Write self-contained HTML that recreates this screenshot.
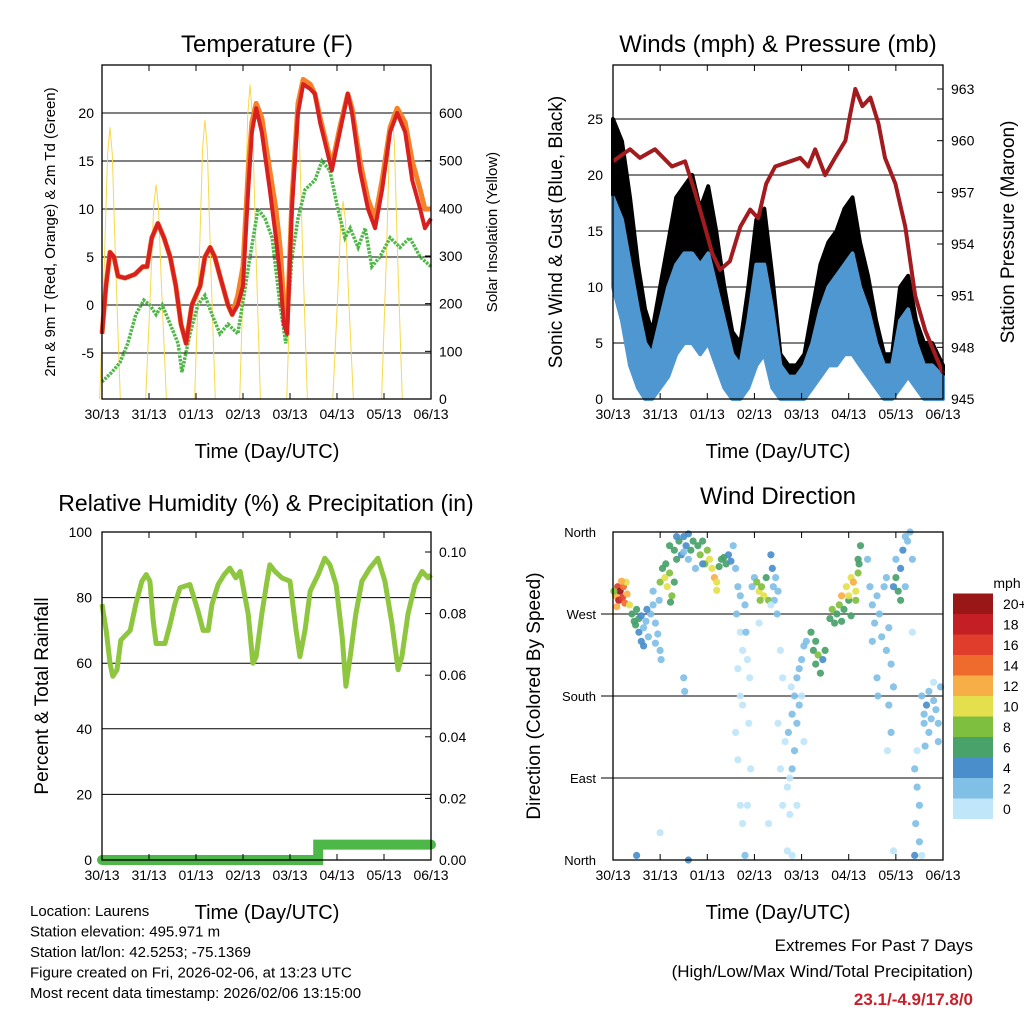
<!DOCTYPE html>
<html><head><meta charset="utf-8"><style>
body{margin:0;background:#fff;}
svg{display:block;font-family:"Liberation Sans",sans-serif;}
</style></head><body>
<svg id="c" width="1024" height="1024" viewBox="0 0 1024 1024">
<rect width="1024" height="1024" fill="#fff"/>
</svg>
<script>
// ---------- Temperature panel data ----------
const tDays=[0,0.085,0.17,0.255,0.34,0.49,0.70,0.87,0.96,1.06,1.19,1.32,1.45,1.57,1.68,1.79,1.91,2.09,2.19,2.30,2.40,2.51,2.68,2.77,2.89,3.0,3.11,3.19,3.28,3.40,3.57,3.70,3.79,3.87,3.94,4.04,4.17,4.28,4.43,4.53,4.64,4.74,4.89,5.06,5.23,5.32,5.49,5.66,5.81,5.96,6.13,6.28,6.45,6.60,6.77,6.87,7.0];
const temp2m=[-3,2,5.5,5,3,2.8,3.2,4,4,7,8.5,7,5,2,-2,-4,0,2,5,6,5,3,0,-1,0,2,12,18,20.5,18,12,7,3,-2,-3,10,20,23,22.5,22,19,17,14,18,22,20,14,10,8,12,18,20,18,13,10,8,9];
const temp9m=[-3,2,5.5,5,3,2.8,3.2,4,4,7,8.5,7,5,2,-2,-4,0,2,5,6,5,3,0,-1,1,4,14,19,21,19.5,14,10,6,0,-2,11,21,23.5,23,22,19.5,17.5,14.5,18.5,22,20.5,15,11,9,13,18.5,20.5,19,15,12,10,10];
const tdDays=[0,.21,.38,.55,.72,.89,1.02,1.15,1.28,1.45,1.62,1.70,1.87,2.04,2.19,2.34,2.51,2.68,2.89,3.15,3.32,3.47,3.62,3.79,3.91,4.04,4.17,4.32,4.53,4.68,4.85,5.02,5.17,5.28,5.45,5.60,5.74,5.91,6.13,6.34,6.55,6.77,7];
const dewpt=[-8,-7,-6,-4,-1,0.5,0,-1,0,-2,-4,-7,-3,0,1,-1,-3,-2,-3,5,10,9,7,0,-4,5,9,12,13,15,14,10,7,8,6,8,4,5,7,6,7,5,4];
const solarPeakDay=[0.17,1.15,2.19,3.15,4.15,5.13,6.17];
const solarPeakVal=[570,450,585,660,605,415,600];
const dayLabels=["30/13","31/13","01/13","02/13","03/13","04/13","05/13","06/13"];
const tempTicks=[-5,0,5,10,15,20];
const solarTicks=[0,100,200,300,400,500,600];
// ---------- Winds panel data ----------
const wDays=[0,0.19,0.36,0.53,0.68,0.83,1.0,1.17,1.34,1.51,1.68,1.85,2.02,2.19,2.36,2.53,2.7,2.87,3.04,3.21,3.38,3.55,3.72,3.89,4.06,4.23,4.4,4.57,4.74,4.91,5.08,5.24,5.41,5.58,5.75,5.92,6.09,6.26,6.43,6.6,6.77,7.0];
const gustHi=[25,23,18,12,8,6,10,14,18,19,20,17,19,15,10,6,5,10,16,17,11,4,3,3,4,8,12,14,15,17,18,14,11,7,4,4,10,11,7,5,5,3];
const gustLo=[16,13,7,3,2,1,3,5,8,9,9,8,9,6,3,1,1,3,6,7,3,1,1,1,1,2,4,5,6,7,8,6,4,2,1,1,3,4,2,1,1,1];
const windHi=[18,16,12,8,5,4,7,10,12,13,13,12,13,10,7,4,3,7,12,12,8,3,2,2,3,5,8,10,11,12,13,10,8,5,3,3,7,8,5,3,3,2];
const windLo=[10,7,3,1,0,0,1,2,4,5,5,4,5,3,1,0,0,1,3,4,1,0,0,0,0,1,2,3,3,4,4,3,2,1,0,0,1,2,1,0,0,0];
const pDays=[0,.36,.57,.89,1.25,1.53,1.74,1.95,2.10,2.27,2.48,2.70,2.91,3.08,3.25,3.44,3.76,3.97,4.14,4.29,4.50,4.71,4.93,5.03,5.14,5.29,5.46,5.63,5.77,5.99,6.20,6.41,6.62,6.77,7];
const pressure=[958.8,959.5,959,959.5,958.5,958.8,957,955,953.5,952.5,953,955,956,955.5,957.5,958.5,958.8,959,958.5,959.5,958,959,960,961.5,963,962,962.5,961,959,957.5,955,951,949,948,946.5];
const windTicks=[0,5,10,15,20,25];
const presTicks=[945,948,951,954,957,960,963];
// ---------- RH panel data ----------
const rhDays=[0,.09,.17,.23,.32,.40,.60,.72,.85,.94,1.02,1.09,1.15,1.34,1.45,1.55,1.66,1.87,2.04,2.15,2.26,2.34,2.47,2.60,2.72,2.85,2.94,3.11,3.21,3.28,3.40,3.51,3.57,3.68,3.83,4.0,4.13,4.21,4.32,4.43,4.60,4.74,4.85,4.98,5.11,5.19,5.28,5.40,5.53,5.70,5.87,6.02,6.17,6.30,6.38,6.51,6.66,6.81,6.94,7];
const rh=[78,70,60,56,58,67,70,78,85,87,85,73,66,66,72,78,83,84,76,70,70,78,84,87,89,86,88,75,60,62,75,85,90,88,86,85,70,62,70,82,87,92,90,84,68,53,62,75,85,89,92,85,72,58,62,75,84,88,86,87];
const precipDays=[0,4.6,4.6,7];
const precip=[0,0,0.005,0.005];
const rhTicks=[0,20,40,60,80,100];
const precTicks=[0,0.02,0.04,0.06,0.08,0.10];
// ---------- Wind direction data: [day, direction deg, speed mph] ----------
const dirPts=[[0.05,290,12],[0.1,300,16],[0.12,285,18],[0.15,295,20],[0.2,288,16],[0.22,300,14],[0.25,282,14],[0.3,292,12],[0.28,305,10],[0.08,278,12],[0.18,306,12],[0.35,280,10],[0.02,295,8],
[0.4,270,7],[0.45,262,6],[0.5,275,7],[0.55,265,6],[0.48,258,6],[0.6,268,5],
[0.55,250,4],[0.6,240,4],[0.65,255,3],[0.7,262,3],[0.75,245,3],[0.8,270,2],[0.85,280,2],[0.9,260,3],[0.95,248,2],[1.0,230,2],[0.9,238,3],[0.65,235,4],[0.72,275,4],[0.85,295,2],[0.98,285,2],[1.02,220,2],
[1.0,305,8],[1.05,320,6],[1.1,310,10],[1.15,300,10],[1.2,315,8],[1.25,290,8],[1.12,325,6],[1.3,305,6],[1.22,283,7],[1.35,330,6],
[1.2,345,6],[1.3,340,6],[1.4,350,6],[1.5,355,5],[1.45,335,4],[1.55,345,4],[1.6,330,3],[1.7,350,6],[1.65,340,6],[1.8,345,7],[1.85,335,8],[1.9,350,6],[1.95,325,8],[2.0,340,8],[2.05,330,10],[2.1,320,10],[2.15,310,12],[2.2,305,10],[2.25,322,6],[2.3,330,6],[2.35,332,6],[2.4,325,6],[2.45,335,5],[2.5,328,4],[1.75,320,3],[1.35,355,4],[1.5,338,3],[1.6,358,4],[2.2,296,10],[1.9,325,4],
[2.55,345,2],[2.6,320,2],[2.65,300,3],[2.7,290,3],[2.62,270,2],[2.7,250,1],[2.75,230,1],[2.65,210,1],[2.7,180,1],[2.75,170,1],[2.6,140,1],[2.65,110,1],[2.7,60,1],[2.75,40,1],[2.8,280,3],[2.82,250,2],[2.85,220,1],[2.9,200,1],[2.88,150,1],[2.92,100,1],[2.85,60,1],[2.8,5,2],[2.95,300,2],[3.0,310,2],
[3.05,305,8],[3.1,295,10],[3.15,300,8],[3.2,290,10],[3.25,310,6],[3.3,285,8],[3.12,285,9],
[3.35,335,4],[3.38,320,4],[3.4,300,3],[3.42,285,3],[3.45,310,3],[3.5,295,2],[3.48,270,2],
[3.55,230,1],[3.6,200,1],[3.5,150,1],[3.55,100,1],[3.6,60,1],[3.65,130,1],[3.7,80,1],[3.75,90,1],[3.72,140,2],[3.8,160,2],[3.85,180,2],[3.9,200,2],[3.95,210,2],[3.85,120,2],[3.8,100,2],[3.9,150,2],[4.0,220,3],[4.05,235,3],[3.78,190,1],[3.7,10,1],[3.8,5,1],[3.95,170,2],[4.1,240,3],[3.9,60,1],[4.0,180,1],[4.05,130,1],[3.75,50,1],[3.3,40,1],[3.35,280,1],[3.1,260,1],
[4.2,250,6],[4.25,230,6],[4.3,215,7],[4.35,225,8],[4.4,205,6],[4.45,220,5],[4.3,240,6],[4.5,230,6],
[4.6,265,6],[4.65,275,8],[4.7,260,7],[4.75,270,6],[4.8,280,8],[4.85,262,6],[4.9,275,7],[5.0,285,6],[5.05,268,7],
[4.95,300,10],[5.0,290,11],[5.05,310,10],[5.1,305,12],[5.15,295,10],[5.2,315,8],[5.2,330,6],[5.25,345,6],[5.22,325,7],[5.15,285,9],[4.85,290,12],
[5.4,330,3],[5.45,300,3],[5.5,280,3],[5.55,260,3],[5.5,240,3],[5.6,290,2],[5.65,270,2],[5.7,245,2],[5.75,300,2],[5.8,310,2],[5.85,255,2],[5.6,200,3],[5.62,180,3],[5.8,230,3],[5.9,215,2],[5.85,170,2],[5.95,190,3],[5.9,140,2],[5.82,120,1],[5.95,10,1],
[5.95,300,4],[6.0,310,6],[6.05,295,6],[6.1,320,5],[6.0,330,3],[6.15,340,4],[6.2,355,3],[6.25,350,2],[6.3,360,2],[6.1,285,6],[6.2,300,3],[6.35,330,2],[6.35,250,1],
[6.4,100,2],[6.45,80,2],[6.5,60,2],[6.42,40,2],[6.5,20,2],[6.55,5,1],[6.45,120,1],[6.6,150,2],[6.4,5,4],
[6.55,180,2],[6.6,160,3],[6.65,170,4],[6.7,185,3],[6.75,155,2],[6.8,175,3],[6.85,165,3],[6.9,150,2],[6.95,190,2],[6.7,140,3],[6.62,125,3],[6.8,195,1],[6.9,130,2],
[0.5,5,4],[1.0,30,1],[1.6,0,4],[1.5,200,3],[1.52,185,2]];
const dirLabels=["North","East","South","West","North"];
const speedLabels=["0","2","4","6","8","10","12","14","16","18","20+"];
const speedColors=["#bfe6f9","#80bfe6","#4a8ecb","#48a26a","#7fbf3f","#e4df4c","#f8ae47","#ef6b2d","#e03d2c","#c31f25","#9a1718"];

const svg=document.getElementById('c');
const NS="http://www.w3.org/2000/svg";
function mk(tag,attrs,parent){const e=document.createElementNS(NS,tag);for(const k in attrs)e.setAttribute(k,attrs[k]);(parent||svg).appendChild(e);return e;}
function txt(s,x,y,size,anchor,parent,extra){const e=mk('text',Object.assign({x:x,y:y,'font-size':size,'text-anchor':anchor||'middle',fill:'#000'},extra||{}),parent);e.textContent=s;return e;}
function lin(x0,x1,v0,v1){return v=>x0+(v-v0)*(x1-x0)/(v1-v0);}
function pathOf(xs,ys,fx,fy){return xs.map((d,i)=>(i?'L':'M')+fx(d).toFixed(1)+' '+fy(ys[i]).toFixed(1)).join(' ');}

function frame(g,L,T,R,B,xlabelY){
  mk('rect',{x:L,y:T,width:R-L,height:B-T,fill:'none',stroke:'#000','stroke-width':1.3},g);
  const fx=lin(L,R,0,7);
  dayLabels.forEach((s,i)=>{const x=fx(i);
    mk('line',{x1:x,x2:x,y1:B,y2:B-6,stroke:'#000','stroke-width':1},g);
    mk('line',{x1:x,x2:x,y1:T,y2:T+6,stroke:'#000','stroke-width':1},g);
    const t=txt(s,x,B+20,14,'middle',g);
    
    
  });
  return fx;
}

// ===== Panel 1: Temperature =====
(function(){
  const g=mk('g',{});
  
  
  const L=102,R=431,T=65,B=399;
  const fx=lin(L,R,0,7), fy=lin(305,353,0,-5), fs=lin(399,113,0,600);
  tempTicks.forEach(v=>{mk('line',{x1:L,x2:R,y1:fy(v),y2:fy(v),stroke:'#000','stroke-width':1},g);
    const t=txt(String(v),L-8,fy(v)+5,14,'end',g);});
  solarTicks.forEach(v=>{mk('line',{x1:R,x2:R-6,y1:fs(v),y2:fs(v),stroke:'#000'},g);
    const t=txt(String(v),R+8,fs(v)+5,14,'start',g);});
  // solar
  const frac=[[-0.22,0],[-0.12,0.5],[-0.05,0.9],[0,1],[0.05,0.9],[0.12,0.5],[0.22,0]];
  solarPeakDay.forEach((d,i)=>{
    const p=mk('path',{d:frac.map((f,j)=>(j?'L':'M')+fx(d+f[0]).toFixed(1)+' '+fs(solarPeakVal[i]*f[1]).toFixed(1)).join(' '),fill:'none',stroke:'#f6d94a','stroke-width':1},g);
    
    
  });
  const pd=mk('path',{d:pathOf(tdDays,dewpt,fx,fy),fill:'none',stroke:'#4fb748','stroke-width':3.5,'stroke-dasharray':'2.5 1.2'},g);
  
  const po=mk('path',{d:pathOf(tDays,temp9m,fx,fy),fill:'none',stroke:'#f58229','stroke-width':5,'stroke-linejoin':'round'},g);
  
  const pr=mk('path',{d:pathOf(tDays,temp2m,fx,fy),fill:'none',stroke:'#d7201f','stroke-width':4,'stroke-linejoin':'round'},g);
  
  frame(g,L,T,R,B);
  let t=txt('Temperature (F)',267,52,24,'middle',g);
  t=txt('Time (Day/UTC)',267,458,20,'middle',g);
  t=txt('2m & 9m T (Red, Orange) & 2m Td (Green)',0,0,15,'middle',g,{transform:'translate(55,232) rotate(-90)'});
  t=txt('Solar Insolation (Yellow)',0,0,15,'middle',g,{transform:'translate(497,232) rotate(-90)'});
})();

// ===== Panel 2: Winds =====
(function(){
  const g=mk('g',{});
  
  
  const L=613,R=943,T=65,B=399;
  const fx=lin(L,R,0,7), fy=lin(399,119,0,25), fp=lin(399,89,945,963);
  windTicks.forEach(v=>{if(v>0)mk('line',{x1:L,x2:R,y1:fy(v),y2:fy(v),stroke:'#000','stroke-width':1},g);
    const t=txt(String(v),L-10,fy(v)+5,14,'end',g);});
  presTicks.forEach(v=>{mk('line',{x1:R,x2:R-6,y1:fp(v),y2:fp(v),stroke:'#000'},g);
    const t=txt(String(v),R+8,fp(v)+5,14,'start',g);});
  function band(hi,lo,col,name){
    let d=wDays.map((x,i)=>(i?'L':'M')+fx(x).toFixed(1)+' '+fy(hi[i]).toFixed(1)).join(' ');
    for(let i=wDays.length-1;i>=0;i--)d+=' L'+fx(wDays[i]).toFixed(1)+' '+fy(lo[i]).toFixed(1);
    const p=mk('path',{d:d+'Z',fill:col,stroke:col,'stroke-width':4,'stroke-linejoin':'round'},g);
    
  }
  band(gustHi,gustLo,'#000','gust-band');
  band(windHi,windLo,'#4f97d0','wind-band');
  const pp=mk('path',{d:pathOf(pDays,pressure,fx,fp),fill:'none',stroke:'#a21b1f','stroke-width':4,'stroke-linejoin':'round'},g);
  
  frame(g,L,T,R,B);
  let t=txt('Winds (mph) & Pressure (mb)',778,52,24,'middle',g);
  t=txt('Time (Day/UTC)',778,458,20,'middle',g);
  t=txt('Sonic Wind & Gust (Blue, Black)',0,0,19,'middle',g,{transform:'translate(562,232) rotate(-90)'});
  t=txt('Station Pressure (Maroon)',0,0,19,'middle',g,{transform:'translate(1014,232) rotate(-90)'});
})();

// ===== Panel 3: RH =====
(function(){
  const g=mk('g',{});
  
  
  const L=102,R=431,T=532,B=860;
  const fx=lin(L,R,0,7), fy=lin(860,532,0,100), fq=lin(860,552,0,0.10);
  rhTicks.forEach(v=>{if(v>0&&v<100)mk('line',{x1:L,x2:R,y1:fy(v),y2:fy(v),stroke:'#000','stroke-width':1},g);
    const t=txt(String(v),L-10,fy(v)+5,14,'end',g);});
  precTicks.forEach(v=>{mk('line',{x1:R,x2:R-6,y1:fq(v),y2:fq(v),stroke:'#000'},g);
    const t=txt(v.toFixed(2),R+8,fq(v)+5,14,'start',g);});
  const pr=mk('path',{d:pathOf(rhDays,rh,fx,fy),fill:'none',stroke:'#8fc640','stroke-width':5,'stroke-linejoin':'round'},g);
  
  const pq=mk('path',{d:pathOf(precipDays,precip,fx,fq),fill:'none',stroke:'#4db848','stroke-width':10,'stroke-linecap':'round'},g);
  
  frame(g,L,T,R,B);
  let t=txt('Relative Humidity (%) & Precipitation (in)',266,511,23,'middle',g);
  t=txt('Time (Day/UTC)',267,919,20,'middle',g);
  t=txt('Percent & Total Rainfall',0,0,19,'middle',g,{transform:'translate(48,696) rotate(-90)'});
})();

// ===== Panel 4: Wind Direction =====
(function(){
  const g=mk('g',{});
  
  
  const L=613,R=943,T=532,B=860;
  const fx=lin(L,R,0,7), fy=lin(860,532,0,360);
  dirLabels.forEach((s,i)=>{const y=fy(i*90);
    if(i>0&&i<4)mk('line',{x1:L-12,x2:R,y1:y,y2:y,stroke:'#000','stroke-width':1},g);
    const t=txt(s,596,y+5,13,'end',g);});
  dirPts.forEach(p=>{
    const bin=Math.min(10,Math.max(0,Math.floor(p[2]/2)));
    const c=mk('circle',{cx:fx(p[0]).toFixed(1),cy:fy(p[1]).toFixed(1),r:3.6,fill:speedColors[bin],'fill-opacity':0.92},g);
    
    
  });
  frame(g,L,T,R,B);
  let t=txt('Wind Direction',778,504,24,'middle',g);
  t=txt('Time (Day/UTC)',778,919,20,'middle',g);
  t=txt('Direction (Colored By Speed)',0,0,19,'middle',g,{transform:'translate(540,696) rotate(-90)'});
  // colorbar
  const cb=mk('g',{},g);
  
  
  t=txt('mph',1007,588,14,'middle',cb);
  const h=20.5;
  speedLabels.forEach((s,i)=>{const y=819-(i+1)*h;
    const r=mk('rect',{x:953,y:y,width:40,height:h,fill:speedColors[i]},cb);
    
    const tt=txt(s,1003,y+h/2+5,14,'start',cb);});
})();

// ===== Footer =====
(function(){
  const g=mk('g',{});
  
  
  ["Location: Laurens","Station elevation: 495.971 m","Station lat/lon: 42.5253; -75.1369","Figure created on Fri, 2026-02-06, at 13:23 UTC","Most recent data timestamp: 2026/02/06 13:15:00"].forEach((s,i)=>{
    const t=txt(s,30,916+i*20.5,15,'start',g);});
  const e=mk('g',{});
  
  
  let t=txt('Extremes For Past 7 Days',973,951,17,'end',e);
  t=txt('(High/Low/Max Wind/Total Precipitation)',973,977,17,'end',e);
  t=txt('23.1/-4.9/17.8/0',973,1005,17,'end',e,{fill:'#c8202a','font-weight':'bold'});
})();
</script>
</body></html>
